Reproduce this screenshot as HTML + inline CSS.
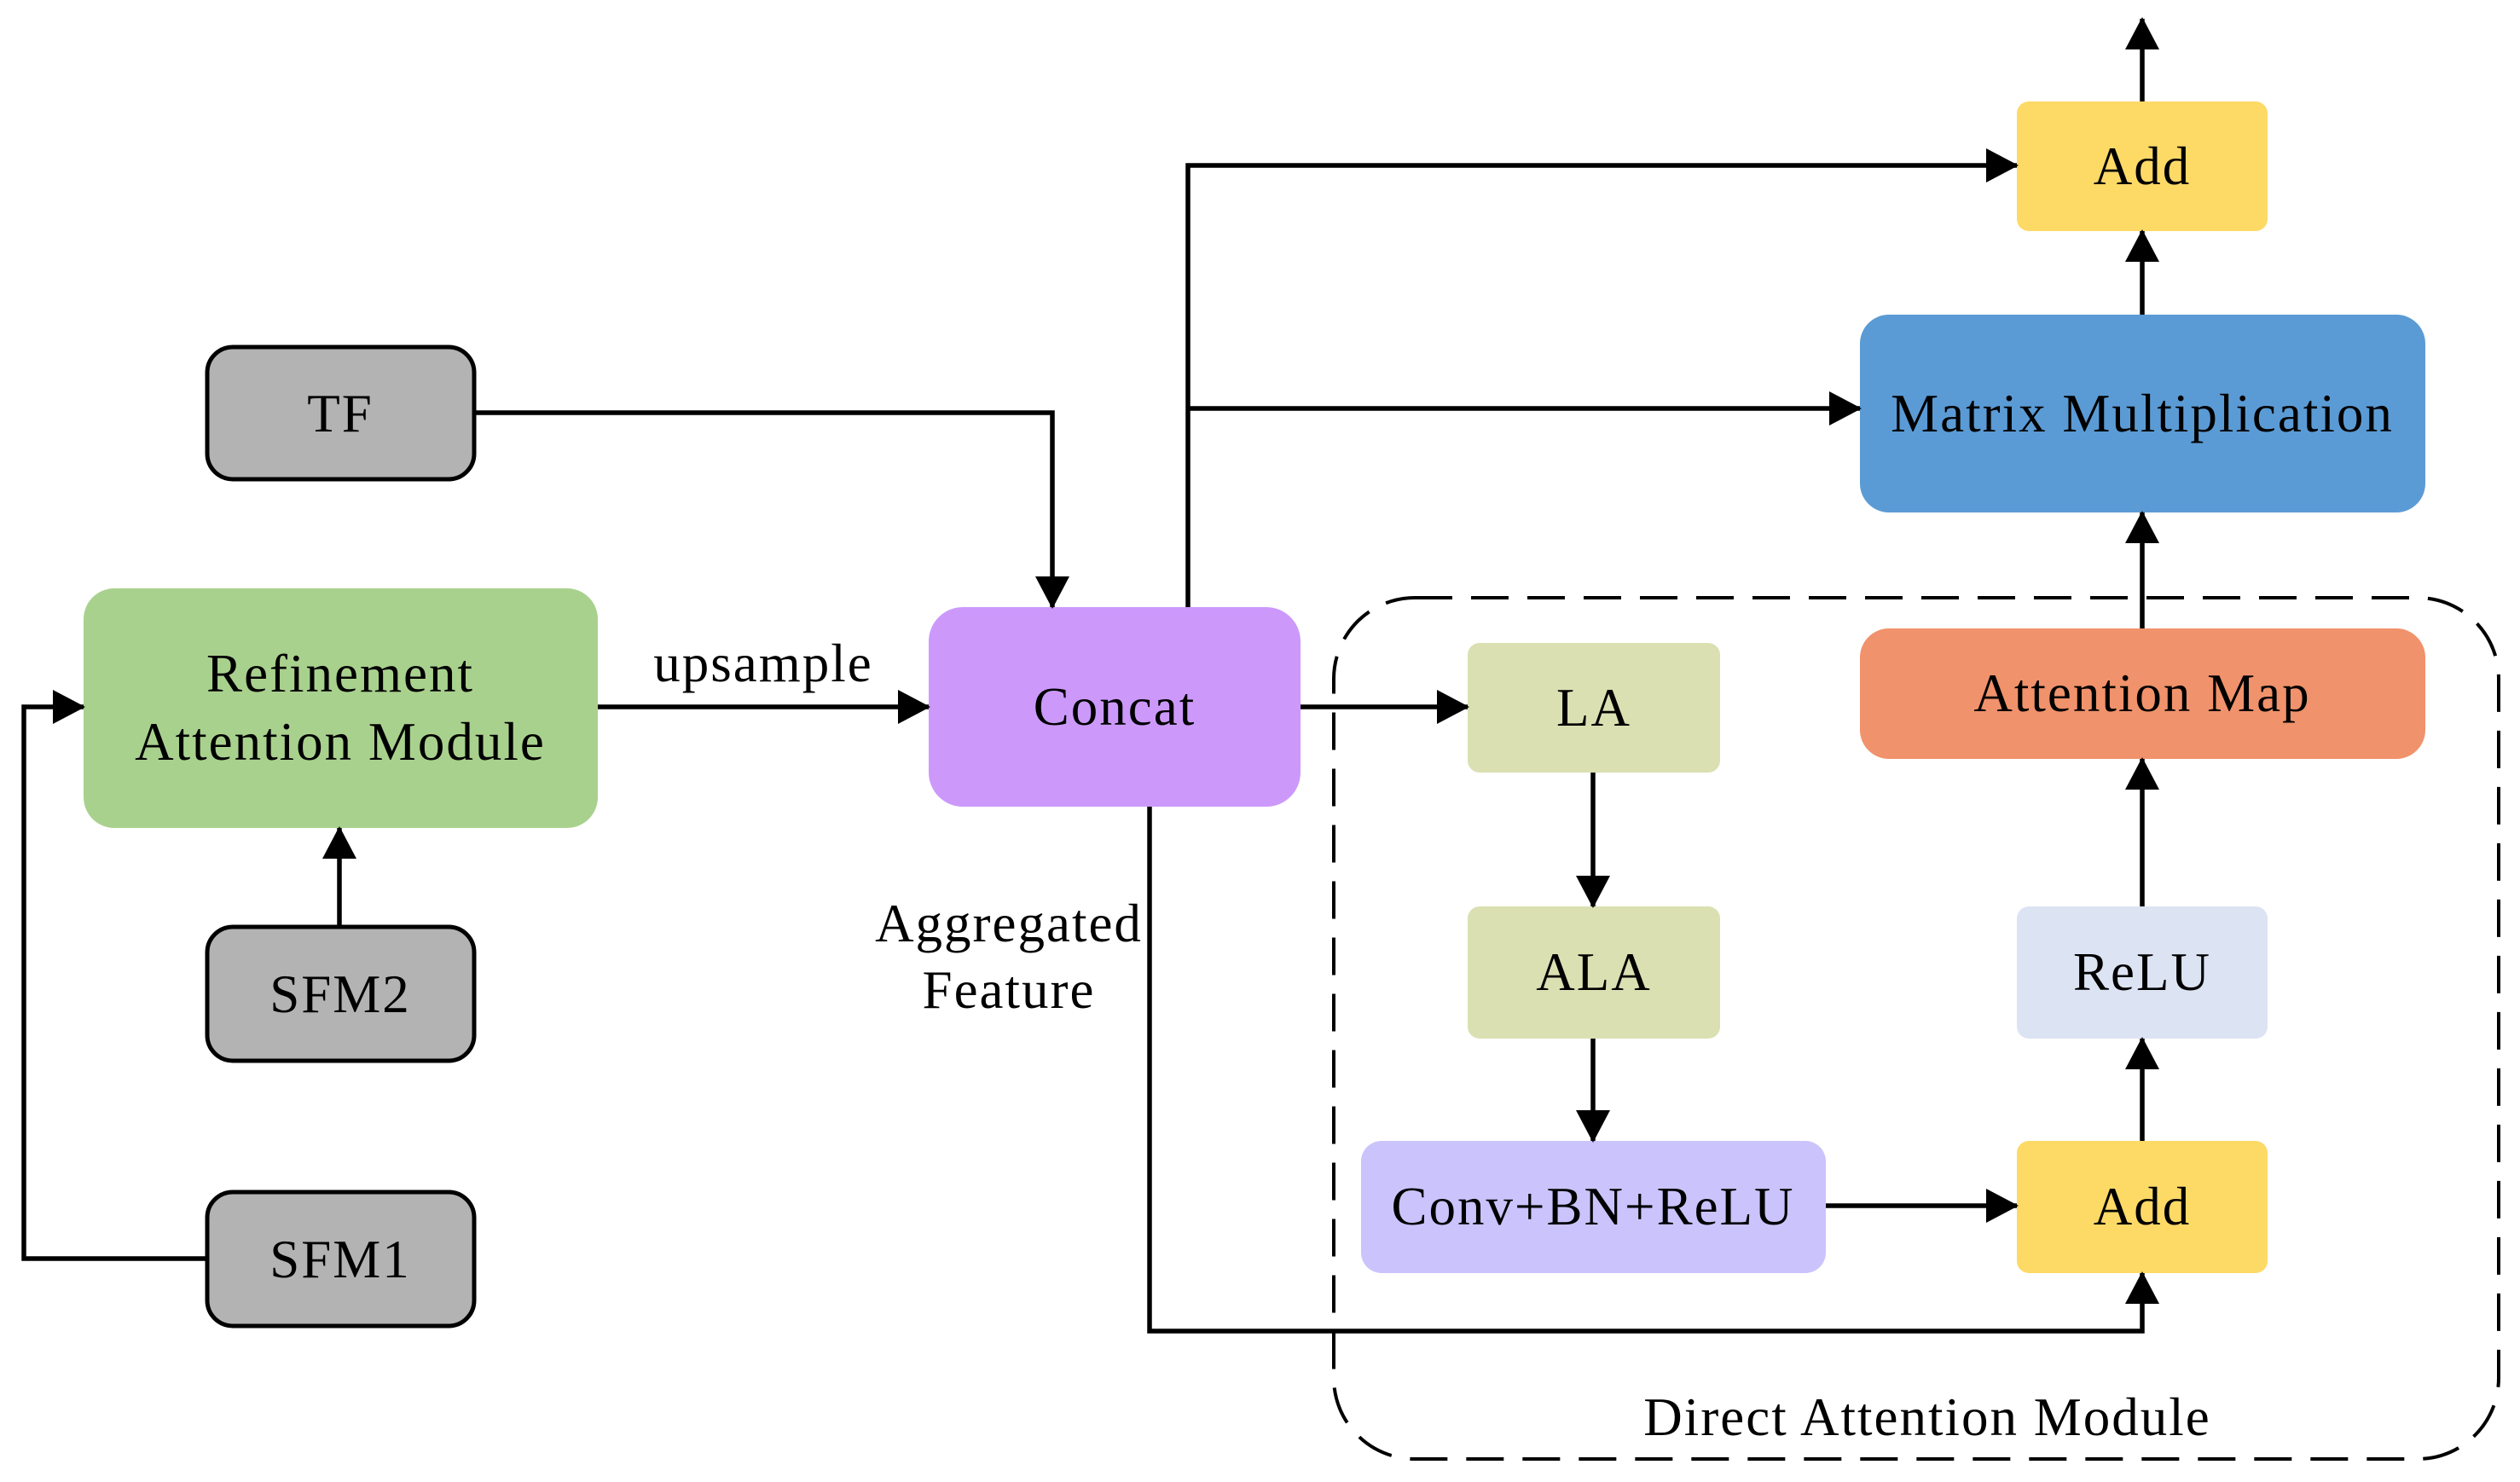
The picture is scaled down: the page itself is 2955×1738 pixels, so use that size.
<!DOCTYPE html>
<html><head><meta charset="utf-8"><style>
html,body{margin:0;padding:0;background:#fff}
svg{display:block}
text{font-family:"Liberation Serif",serif;font-size:63px;letter-spacing:2px;fill:#000;text-anchor:middle;dominant-baseline:central}
</style></head><body>
<svg width="2955" height="1738" viewBox="0 0 2955 1738" xmlns="http://www.w3.org/2000/svg">
<defs>
<marker id="a" markerWidth="38" markerHeight="40" refX="36" refY="20" orient="auto" markerUnits="userSpaceOnUse">
<path d="M0,0 L38,20 L0,40 Z" fill="#000"/>
</marker>
</defs>
<rect x="1564" y="701" width="1366" height="1010" rx="95" fill="none" stroke="#000" stroke-width="4" stroke-dasharray="44,22"/>
<rect x="243" y="407" width="313" height="155" rx="30" fill="#b3b3b3" stroke="#000" stroke-width="5"/>
<rect x="243" y="1087" width="313" height="157" rx="30" fill="#b3b3b3" stroke="#000" stroke-width="5"/>
<rect x="243" y="1398" width="313" height="157" rx="30" fill="#b3b3b3" stroke="#000" stroke-width="5"/>
<rect x="98" y="690" width="603" height="281" rx="36" fill="#a9d18e"/>
<rect x="1089" y="712" width="436" height="234" rx="40" fill="#cc99fb"/>
<rect x="1721" y="754" width="296" height="152" rx="14" fill="#dae0b2"/>
<rect x="1721" y="1063" width="296" height="155" rx="14" fill="#dae0b2"/>
<rect x="1596" y="1338" width="545" height="155" rx="24" fill="#cbc3fc"/>
<rect x="2365" y="1338" width="294" height="155" rx="14" fill="#fdd966"/>
<rect x="2365" y="1063" width="294" height="155" rx="14" fill="#dce3f3"/>
<rect x="2181" y="737" width="663" height="153" rx="34" fill="#f0926b"/>
<rect x="2181" y="369" width="663" height="232" rx="34" fill="#5b9bd5"/>
<rect x="2365" y="119" width="294" height="152" rx="14" fill="#fdd966"/>
<g fill="none" stroke="#000" stroke-width="5.5" marker-end="url(#a)">
<path d="M556,484 H1234 V712"/>
<path d="M701,829 H1089"/>
<path d="M398,1087 V971"/>
<path d="M243,1476 H28 V829 H98"/>
<path d="M1393,712 V194 H2365"/>
<path d="M1393,479 H2181"/>
<path d="M1525,829 H1721"/>
<path d="M1348,946 V1561 H2512 V1493"/>
<path d="M1868,906 V1063"/>
<path d="M1868,1218 V1338"/>
<path d="M2141,1414 H2365"/>
<path d="M2512,1338 V1218"/>
<path d="M2512,1063 V890"/>
<path d="M2512,737 V601"/>
<path d="M2512,369 V271"/>
<path d="M2512,119 V22"/>
</g>
<text x="399" y="485">TF</text>
<text x="399" y="1166">SFM2</text>
<text x="399" y="1477">SFM1</text>
<text x="399" y="790">Refinement</text>
<text x="399" y="870">Attention Module</text>
<text x="895" y="778">upsample</text>
<text x="1307" y="829">Concat</text>
<text x="1183" y="1083">Aggregated</text>
<text x="1183" y="1161">Feature</text>
<text x="1869" y="830">LA</text>
<text x="1869" y="1140">ALA</text>
<text x="1868" y="1415">Conv+BN+ReLU</text>
<text x="2512" y="1415">Add</text>
<text x="2512" y="1140">ReLU</text>
<text x="2512" y="813">Attention Map</text>
<text x="2512" y="485">Matrix Multiplication</text>
<text x="2512" y="195">Add</text>
<text x="2260" y="1662">Direct Attention Module</text>
</svg>
</body></html>
